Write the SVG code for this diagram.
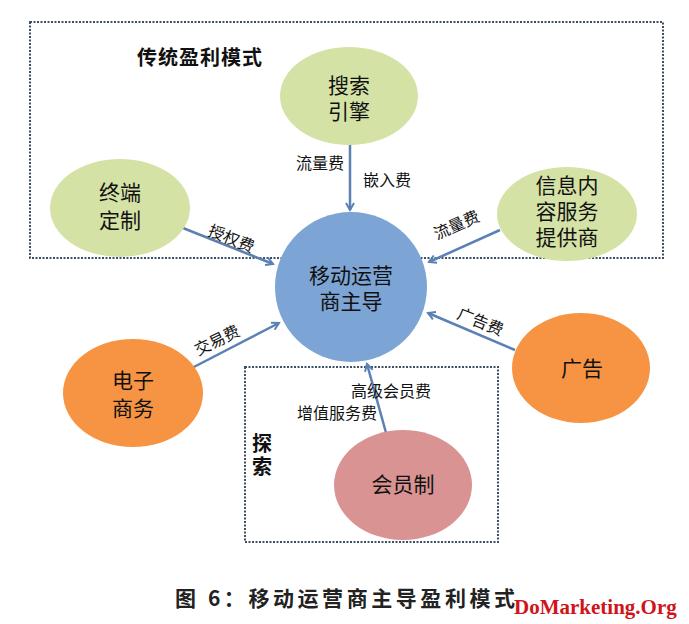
<svg xmlns="http://www.w3.org/2000/svg" width="689" height="624" viewBox="0 0 689 624">
<defs>
<style>
.t{font-family:"Liberation Sans","Noto Sans CJK SC",sans-serif;fill:#111;}
.n{font-size:21px;text-anchor:middle;}
.l{font-size:16px;}
.b{font-weight:bold;font-size:20px;}
.box{fill:none;stroke:#3d4f63;stroke-width:2;stroke-dasharray:2 1.5;}
.c{stroke:#5b80b4;stroke-width:2.5;fill:none;marker-end:url(#ah);}
.g{fill:#d5e2a5;}
.o{fill:#f79443;}
</style>
<marker id="ah" markerWidth="10" markerHeight="10" refX="8" refY="5" orient="auto" markerUnits="userSpaceOnUse">
<path d="M1,1 L8,5 L1,9" fill="none" stroke="#5b80b4" stroke-width="2"/>
</marker>
</defs>
<rect width="689" height="624" fill="#fff"/>
<g id="frames">
<rect class="box" x="30" y="22" width="633" height="236"/>
<rect class="box" x="245" y="367" width="253" height="175"/>
<text class="t b" x="137" y="65" textLength="125">传统盈利模式</text>
<text class="t b" x="252" y="451">探</text>
<text class="t b" x="252" y="474">索</text>
</g>
<g id="connectors">
<line class="c" x1="350" y1="143" x2="350" y2="210"/>
<line class="c" x1="183" y1="228" x2="273" y2="264"/>
<line class="c" x1="500" y1="230" x2="429" y2="262"/>
<line class="c" x1="190" y1="369" x2="279" y2="323"/>
<line class="c" x1="515" y1="350" x2="428" y2="313"/>
<line class="c" x1="388" y1="440" x2="367" y2="364"/>
<text class="t l" x="296" y="169">流量费</text>
<text class="t l" x="363" y="186">嵌入费</text>
<text class="t l" transform="translate(207,235) rotate(22)">授权费</text>
<text class="t l" transform="translate(437,240) rotate(-24)">流量费</text>
<text class="t l" transform="translate(198,356) rotate(-26)">交易费</text>
<text class="t l" transform="translate(456,318) rotate(22)">广告费</text>
<text class="t l" x="351" y="397">高级会员费</text>
<text class="t l" x="297" y="419">增值服务费</text>
</g>
<g id="center">
<ellipse cx="351" cy="287" rx="76" ry="75" fill="#7ca4d4"/>
<text class="t n" x="351" y="283">移动运营</text>
<text class="t n" x="351" y="309">商主导</text>
</g>
<g id="search">
<ellipse class="g" cx="349" cy="96" rx="69" ry="49"/>
<text class="t n" x="349" y="93">搜索</text>
<text class="t n" x="349" y="119">引擎</text>
</g>
<g id="terminal">
<ellipse class="g" cx="120" cy="208" rx="70" ry="49"/>
<text class="t n" x="120" y="200">终端</text>
<text class="t n" x="120" y="228">定制</text>
</g>
<g id="content">
<ellipse class="g" cx="567" cy="214" rx="70" ry="47"/>
<text class="t n" x="567" y="193">信息内</text>
<text class="t n" x="567" y="219">容服务</text>
<text class="t n" x="567" y="245">提供商</text>
</g>
<g id="ecommerce">
<ellipse class="o" cx="133" cy="393" rx="70" ry="54"/>
<text class="t n" x="133" y="388">电子</text>
<text class="t n" x="133" y="416">商务</text>
</g>
<g id="ad">
<ellipse class="o" cx="581" cy="368" rx="69" ry="55"/>
<text class="t n" x="582" y="376">广告</text>
</g>
<g id="member">
<ellipse cx="403" cy="485" rx="69" ry="55" fill="#d99393"/>
<text class="t n" x="403" y="492">会员制</text>
</g>
<g id="caption">
<text x="175" y="606" textLength="340" style="font-family:'Noto Sans CJK SC',sans-serif;font-weight:bold;font-size:21px;fill:#222">图 6：移动运营商主导盈利模式</text>
<text x="514" y="614" style="font-family:'Liberation Serif',serif;font-weight:bold;font-size:21px;fill:#d0141a">DoMarketing.Org</text>
</g>
</svg>
